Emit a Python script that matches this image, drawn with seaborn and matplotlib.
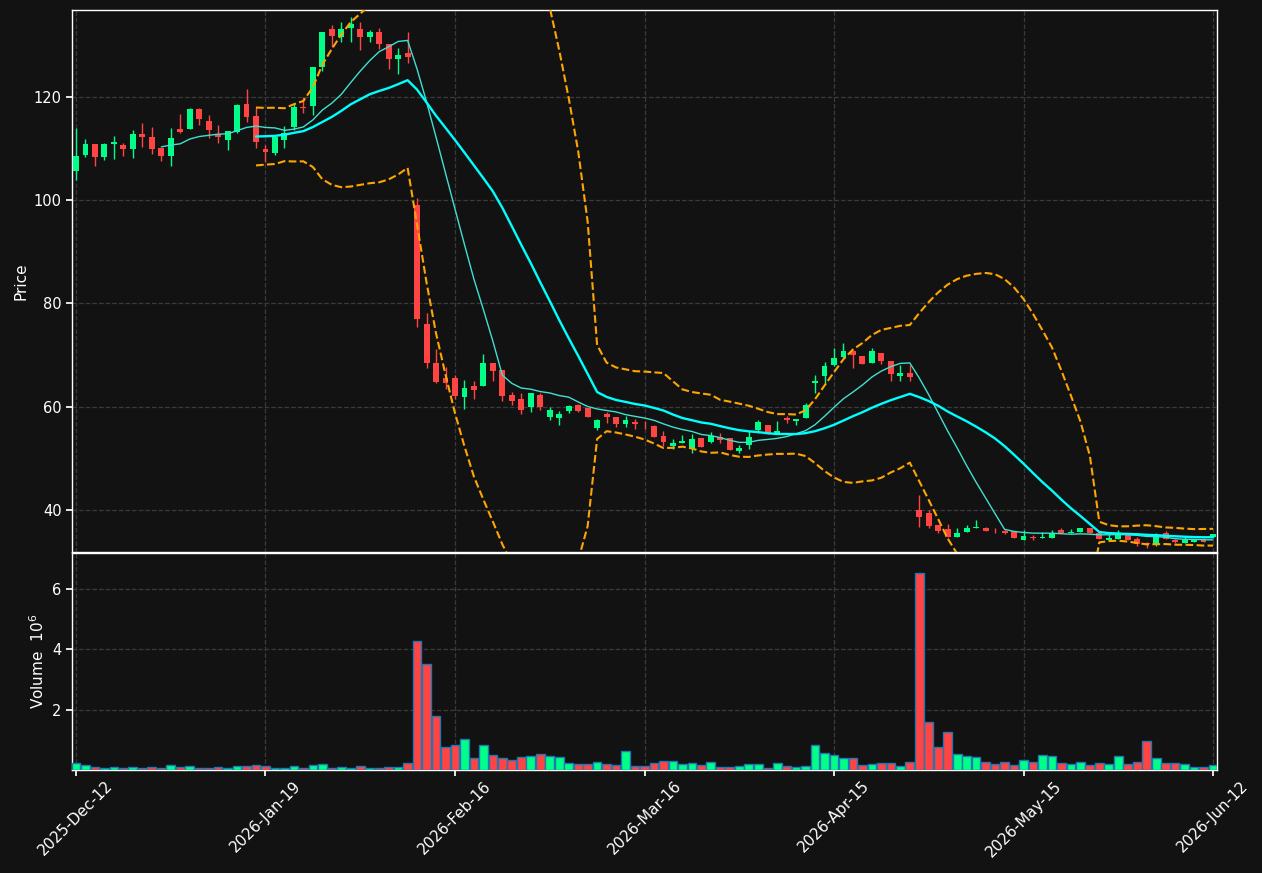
import numpy as np
import pandas as pd
import matplotlib
matplotlib.use("Agg")
import matplotlib.pyplot as plt
import seaborn as sns

# ---------------- data ----------------
opens = [105.7, 108.7, 110.8, 108.4, 110.8, 110.6, 109.9, 112.8, 112.2, 110.1,
         108.6, 113.7, 113.8, 117.6, 115.3, 112.8, 111.6, 113.2, 118.6, 116.3,
         109.9, 109.2, 111.7, 114.2, 118.0, 118.2, 125.8, 133.1, 131.5, 133.4,
         133.1, 131.5, 132.6, 130.2, 127.4, 128.5, 99.0, 76.0, 68.5, 65.5,
         65.5, 61.9, 64.0, 64.0, 68.5, 67.1, 62.3, 61.6, 60.0, 62.3,
         58.1, 57.9, 59.2, 60.3, 59.7, 55.9, 58.7, 58.0, 56.6, 57.0,
         56.3, 56.3, 54.3, 52.4, 53.0, 52.0, 53.9, 53.2, 54.2, 53.9,
         51.4, 52.6, 55.5, 56.5, 55.0, 57.9, 57.2, 57.9, 64.6, 65.9,
         68.1, 69.7, 70.8, 69.8, 68.4, 70.5, 68.8, 65.9, 66.6, 40.0,
         39.5, 37.1, 36.3, 34.8, 35.8, 36.6, 36.6, 36.2, 36.0, 35.9,
         34.2, 34.7, 34.6, 34.6, 36.1, 35.6, 35.7, 36.5, 35.5, 34.2,
         34.5, 35.2, 34.4, 33.6, 33.4, 35.5, 34.2, 33.7, 33.9, 34.3,
         34.8]
highs = [113.9, 111.9, 110.8, 111.1, 112.5, 111.1, 113.5, 114.9, 114.1, 110.1,
         113.9, 116.6, 117.8, 117.8, 116.5, 114.5, 113.4, 118.6, 121.6, 118.1,
         110.6, 112.3, 114.4, 118.7, 120.0, 125.7, 132.5, 133.9, 134.5, 135.5,
         134.5, 133.0, 133.3, 130.2, 129.5, 132.6, 100.5, 78.1, 71.1, 67.7,
         66.2, 65.2, 65.0, 70.2, 68.5, 67.1, 62.8, 62.6, 62.6, 62.6,
         60.0, 59.1, 60.4, 60.5, 59.8, 57.7, 59.0, 58.0, 58.2, 57.6,
         57.3, 56.4, 55.4, 53.7, 54.5, 54.8, 54.0, 55.2, 54.9, 53.9,
         52.6, 55.3, 57.4, 56.5, 57.2, 58.3, 57.7, 60.7, 66.1, 68.6,
         71.3, 72.3, 71.0, 69.8, 71.4, 70.5, 68.8, 68.1, 68.1, 42.9,
         40.0, 37.1, 37.4, 36.6, 37.1, 38.1, 36.8, 36.6, 36.4, 35.9,
         36.1, 35.2, 35.8, 36.1, 36.6, 36.3, 36.6, 36.5, 35.5, 35.4,
         36.1, 35.2, 34.8, 33.9, 35.6, 35.9, 34.5, 35.0, 34.3, 34.6,
         35.3]
lows = [103.9, 108.4, 106.6, 107.7, 108.0, 108.5, 108.2, 110.3, 109.0, 107.6,
        106.6, 112.9, 113.8, 114.6, 112.1, 111.0, 109.8, 113.0, 115.2, 110.0,
        107.4, 108.7, 110.0, 113.6, 116.8, 116.5, 125.0, 129.7, 130.6, 130.6,
        129.0, 130.6, 129.3, 125.3, 124.5, 126.6, 75.5, 67.6, 64.6, 63.4,
        61.6, 59.6, 61.5, 64.0, 65.0, 61.2, 60.3, 58.7, 59.0, 59.4,
        57.4, 56.5, 58.8, 59.0, 58.0, 55.6, 56.9, 56.1, 56.0, 55.8,
        55.8, 54.2, 52.4, 51.9, 52.9, 51.1, 52.3, 53.0, 53.0, 51.6,
        51.0, 51.8, 55.0, 54.7, 54.7, 56.9, 56.5, 57.9, 62.7, 64.5,
        67.9, 69.5, 67.6, 68.3, 68.4, 68.3, 65.0, 64.9, 65.0, 36.8,
        36.6, 35.5, 34.8, 34.8, 35.8, 36.6, 35.9, 35.5, 35.3, 34.6,
        34.2, 34.2, 34.6, 34.6, 35.6, 35.5, 35.7, 35.5, 34.4, 34.2,
        34.5, 34.2, 33.0, 32.6, 33.0, 34.5, 33.7, 33.7, 33.8, 33.8,
        34.8]
closes = [108.5, 110.8, 108.4, 110.8, 111.2, 109.9, 112.8, 112.2, 109.9, 108.6,
          112.0, 113.2, 117.6, 115.7, 113.5, 112.2, 113.4, 118.4, 116.1, 111.2,
          109.4, 112.3, 112.9, 118.0, 117.8, 125.7, 132.5, 131.8, 133.2, 134.1,
          131.5, 132.5, 130.3, 127.4, 128.1, 127.7, 76.9, 68.5, 64.8, 64.6,
          62.1, 63.6, 63.2, 68.5, 66.9, 62.1, 61.1, 59.4, 62.6, 60.0,
          59.4, 58.6, 60.1, 59.2, 58.1, 57.4, 58.1, 56.6, 57.4, 56.6,
          56.2, 54.2, 53.2, 52.9, 53.4, 53.7, 52.3, 54.3, 53.5, 51.6,
          52.1, 54.2, 57.1, 54.7, 55.3, 57.4, 57.7, 60.3, 65.0, 67.9,
          69.5, 70.8, 70.0, 68.3, 70.8, 68.9, 66.3, 66.6, 65.8, 38.7,
          37.0, 35.9, 34.8, 35.6, 36.6, 36.7, 35.9, 36.1, 35.6, 34.6,
          35.0, 34.6, 34.7, 35.6, 35.6, 35.7, 36.6, 35.5, 34.4, 34.6,
          35.5, 34.2, 33.5, 33.5, 35.2, 34.5, 33.9, 34.4, 34.2, 33.8,
          35.3]
volumes = [0.24, 0.17, 0.10, 0.07, 0.10, 0.07, 0.10, 0.07, 0.10, 0.07,
           0.17, 0.10, 0.14, 0.07, 0.07, 0.10, 0.07, 0.14, 0.14, 0.17,
           0.14, 0.07, 0.07, 0.14, 0.07, 0.17, 0.21, 0.07, 0.10, 0.07,
           0.14, 0.07, 0.07, 0.10, 0.10, 0.24, 4.27, 3.51, 1.79, 0.77,
           0.83, 1.03, 0.40, 0.83, 0.50, 0.40, 0.34, 0.44, 0.47, 0.54,
           0.47, 0.44, 0.24, 0.21, 0.21, 0.27, 0.21, 0.17, 0.63, 0.14,
           0.14, 0.24, 0.30, 0.30, 0.21, 0.24, 0.17, 0.27, 0.10, 0.10,
           0.14, 0.21, 0.21, 0.07, 0.24, 0.14, 0.10, 0.14, 0.83, 0.57,
           0.50, 0.40, 0.40, 0.17, 0.21, 0.24, 0.24, 0.14, 0.27, 6.52,
           1.59, 0.77, 1.26, 0.54, 0.47, 0.44, 0.27, 0.21, 0.27, 0.17,
           0.34, 0.27, 0.50, 0.47, 0.24, 0.21, 0.27, 0.17, 0.24, 0.21,
           0.47, 0.21, 0.27, 0.96, 0.40, 0.24, 0.24, 0.21, 0.10, 0.10,
           0.17]
tick_labels = ['2025-Dec-12', '2026-Jan-19', '2026-Feb-16', '2026-Mar-16',
               '2026-Apr-15', '2026-May-15', '2026-Jun-12']

# ---------------- styling ----------------
BG = '#121212'
UP = '#00ff88'
DOWN = '#ff4444'
GRID = '#3a3a3a'

sns.set_theme(style='dark', rc={
    'axes.facecolor': BG, 'figure.facecolor': BG, 'axes.edgecolor': 'white',
    'axes.labelcolor': 'white', 'xtick.color': 'white', 'ytick.color': 'white',
    'text.color': 'white', 'grid.color': GRID, 'grid.linestyle': '--',
    'axes.grid': True, 'xtick.bottom': True, 'ytick.left': True,
})
plt.rcParams['font.family'] = ['DejaVu Sans']

df = pd.DataFrame({'idx': np.arange(len(closes)), 'open': opens, 'high': highs,
                   'low': lows, 'close': closes, 'volume': volumes})
df['ma10'] = df['close'].rolling(10).mean()
df['ma20'] = df['close'].rolling(20).mean()
std20 = df['close'].rolling(20).std(ddof=0)
df['bb_up'] = df['ma20'] + 2 * std20
df['bb_lo'] = df['ma20'] - 2 * std20
up = df['close'] >= df['open']
colors = np.where(up, UP, DOWN)

fig = plt.figure(figsize=(12.62, 8.73), dpi=100)
L, W = 72 / 1262, (1217 - 72) / 1262
ax = fig.add_axes([L, 1 - 552 / 873, W, (552 - 10) / 873])
axv = fig.add_axes([L, 1 - 770 / 873, W, (770 - 553) / 873], sharex=ax)

# candles
ax.vlines(df['idx'], df['low'], df['high'], colors=colors, linewidth=1, zorder=3)
body_lo = np.minimum(df['open'], df['close'])
body_h = np.maximum(np.abs(df['close'] - df['open']), 0.12)
ax.bar(df['idx'], body_h, bottom=body_lo, width=0.62, color=colors,
       linewidth=0, zorder=4)

# moving averages & bands
sns.lineplot(data=df, x='idx', y='ma10', ax=ax, color='#40e0d0', linewidth=1.0, zorder=5)
sns.lineplot(data=df, x='idx', y='ma20', ax=ax, color='#00ffff', linewidth=1.7, zorder=5)
sns.lineplot(data=df, x='idx', y='bb_up', ax=ax, color='#ffa500', linewidth=1.5,
             linestyle='--', zorder=5)
sns.lineplot(data=df, x='idx', y='bb_lo', ax=ax, color='#ffa500', linewidth=1.5,
             linestyle='--', zorder=5)

# volume
axv.bar(df['idx'], df['volume'], width=0.92, color=colors, edgecolor='#1f77b4',
        linewidth=1.0, zorder=3)

n = len(closes)
ticks = np.arange(0, n, 20)
ax.set_xlim(-0.42, n - 1 + 0.42)
ax.set_ylim(31.9, 136.8)
axv.set_ylim(0, 7.2)
ax.set_yticks([40, 60, 80, 100, 120])
axv.set_yticks([2, 4, 6])
axv.set_xticks(ticks)
axv.set_xticklabels(tick_labels, rotation=45, ha='center', fontsize=11)
ax.tick_params(axis='x', labelbottom=False, length=0)
ax.tick_params(axis='y', labelsize=10.5, length=4, color='white')
axv.tick_params(axis='y', labelsize=10.5, length=4, color='white')
axv.tick_params(axis='x', length=4, color='white', pad=2)

for a in (ax, axv):
    a.grid(True, color=GRID, linestyle='--', linewidth=0.9)
    a.set_axisbelow(True)
    for s in a.spines.values():
        s.set_color('white')
        s.set_linewidth(1.0)
    a.set_xlabel('')

ax.set_ylabel('Price', fontsize=11)
axv.set_ylabel('Volume  $10^6$', fontsize=11)

fig.savefig('out.png', dpi=100, facecolor=BG)
